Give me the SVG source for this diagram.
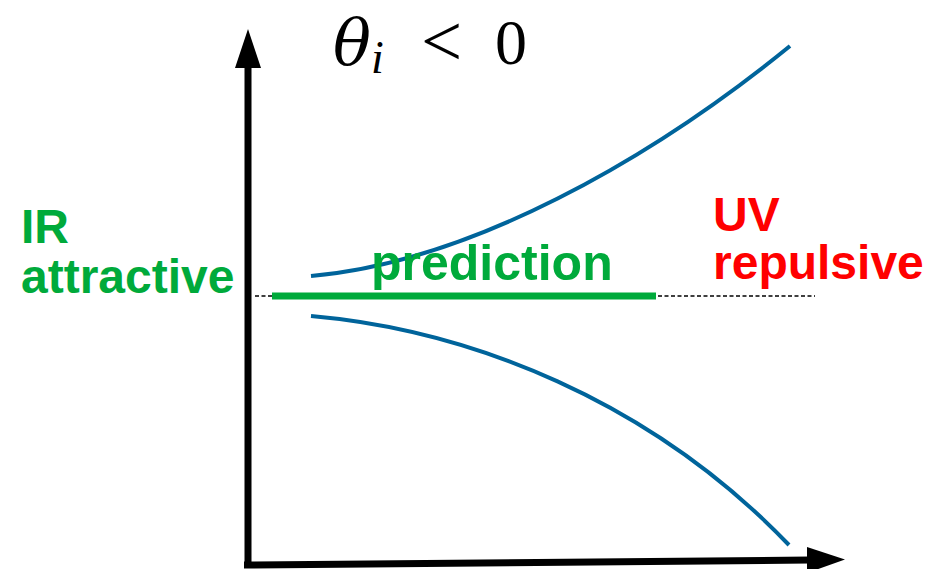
<svg xmlns="http://www.w3.org/2000/svg" width="939" height="569" viewBox="0 0 939 569">
  <style>
    .axis { stroke: #000; stroke-width: 7; fill: none; }
    .head { fill: #000; }
    .curve { stroke: #00649b; stroke-width: 4; fill: none; stroke-linecap: butt; }
    .green { fill: #00aa3b; font-family: "Liberation Sans", Arial, sans-serif; font-weight: bold; }
    .red { fill: #ff0000; font-family: "Liberation Sans", Arial, sans-serif; font-weight: bold; }
    .math { fill: #000; font-family: "Liberation Serif", "Times New Roman", serif; }
    .greek { fill: #000; font-family: "DejaVu Serif", serif; font-style: italic; font-weight: normal; }
  </style>
  <rect width="939" height="569" fill="#fff"/>

  <g id="connectors">
    <g id="y-axis">
      <line class="axis" x1="248" y1="568" x2="248" y2="64"/>
      <polygon class="head" points="235,68 248,29 261,68"/>
    </g>
    <g id="x-axis">
      <line class="axis" x1="244" y1="565" x2="810" y2="560"/>
      <polygon class="head" points="807,547 845,559.5 807,573"/>
    </g>
    <line id="dashed-ref" x1="255" y1="296" x2="815" y2="296" stroke="#000" stroke-width="1.5" stroke-dasharray="4,2.5"/>
  </g>

  <g id="upper-curve">
    <path class="curve" d="M311,276 C470,262 650,160 790,46"/>
  </g>
  <g id="lower-curve">
    <path class="curve" d="M311,316 C470,330 650,400 789,545"/>
  </g>

  <g id="prediction">
    <line x1="272" y1="296" x2="656" y2="296" stroke="#00aa3b" stroke-width="7"/>
    <text class="green" x="371" y="280" font-size="50">prediction</text>
  </g>

  <g id="ir-label">
    <text class="green" x="21" y="243" font-size="48">IR</text>
    <text class="green" x="21" y="293" font-size="48">attractive</text>
  </g>

  <g id="uv-label">
    <text class="red" x="713" y="231" font-size="48">UV</text>
    <text class="red" x="713" y="279" font-size="48">repulsive</text>
  </g>

  <g id="title">
    <text class="greek" x="333" y="64" font-size="63">θ</text>
    <text class="math" x="371" y="73" font-size="46" font-style="italic">i</text>
    <text class="math" x="421" y="66" font-size="73">&lt;</text>
    <text class="math" x="495" y="64" font-size="64">0</text>
  </g>
</svg>
